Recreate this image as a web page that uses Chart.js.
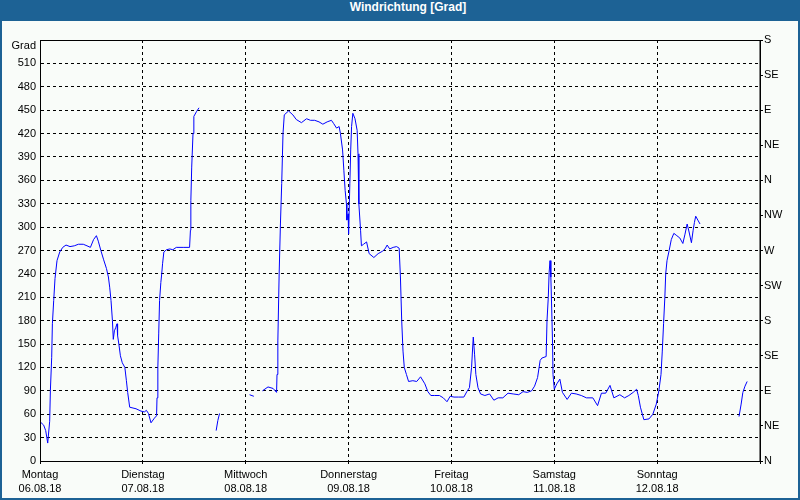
<!DOCTYPE html>
<html><head><meta charset="utf-8">
<script src="https://cdn.jsdelivr.net/npm/chart.js@4"></script>
<style>
html,body{margin:0;padding:0;background:#fff}
#frame{position:relative;width:800px;height:500px;background:#1d6295;overflow:hidden}
#title{position:absolute;left:8px;top:0;width:800px;height:21px;line-height:21px;text-align:center;color:#fff;font:bold 12px "Liberation Sans",Arial,sans-serif}
#inner{position:absolute;left:2px;top:21px;width:796px;height:477px;background:#f9fcf9}
#c{position:absolute;left:0;top:0}
</style></head><body>
<div id="frame"><div id="title">Windrichtung [Grad]</div><div id="inner"></div><canvas id="c" width="800" height="500"></canvas></div>
<script>
// hours since Monday 06.08.18 00:00
const times = [0.1,0.86,1.33,1.8,2.26,2.42,2.73,2.89,3.2,3.5,3.97,4.6,5.3,6.07,7.0,8.0,8.96,10.1,10.97,11.76,12.5,13.16,13.6,14.2,14.86,15.5,15.96,16.26,16.57,16.9,17.1,17.36,17.66,17.97,18.1,18.4,18.76,19.2,19.8,20.16,20.46,20.93,22.4,23.57,24.36,24.83,25.3,25.9,26.7,27.2,27.3,27.5,27.7,27.9,28.2,28.4,28.6,28.9,29.5,30.3,31.0,31.8,33.4,34.9,35.1,35.2,35.4,35.7,35.9,36.5,37.1,38,
41.1,41.5,41.9,45,
48.9,49.9,51,
51.9,53.2,54.4,55.2,55.3,55.5,55.8,56.1,56.4,56.7,57.0,58.0,59.0,59.8,61.0,62.2,63.1,64.1,65.1,66.0,67.0,68.0,68.5,69.2,69.8,70.1,70.6,70.9,71.2,71.5,71.6,71.9,72.0,72.3,72.5,72.7,73.0,73.5,74.0,74.2,74.4,74.8,75.0,75.5,76.2,76.8,77.9,78.9,79.9,80.5,81.0,81.6,82.4,83.2,83.8,84.1,84.4,84.7,85.0,85.5,86.0,87.0,87.9,88.8,89.8,90.5,91.2,92.1,93.2,94.1,94.97,95.7,96.6,97.7,98.9,99.6,100.2,100.7,101.0,101.1,101.4,101.7,102.2,102.8,103.8,104.9,105.9,106.9,108.0,109.2,110.4,111.7,112.7,113.7,114.7,115.4,116.1,116.7,117.1,118.1,118.3,118.6,118.8,119.0,119.2,119.4,119.6,119.7,120.0,120.6,121.3,121.9,123.0,124.0,125.1,126.3,127.5,129.0,130.1,131.0,132.0,133.0,133.9,135.3,136.4,137.4,138.4,139.2,139.6,140.1,140.9,142.1,143.0,143.8,144.4,144.9,145.2,145.5,145.8,146.0,146.3,146.8,147.3,147.9,148.6,149.3,150.0,150.5,151.0,151.4,152.0,152.4,152.7,153.0,153.5,154.0,158,
163.1,163.6,164.0,164.5,165.0];
const directions = [50,46,39,23,51,90,133,176,206,234,257,268,274,277,275,276,278,278,276,274,284,289,282,270,258,247,236,223,206,180,156,167,171,176,161,150,135,126,120,103,88,69,67,64,63,65,61,49,55,58,81,120,163,206,229,240,253,268,271,272,271,274,274,274,296,334,377,420,442,448,453,null,
39,52,61,null,
85,83,null,
90,95,93,88,111,154,240,304,356,420,444,449,444,438,434,439,437,437,435,432,435,437,433,427,429,420,399,373,347,330,309,317,291,356,399,429,446,439,424,394,330,296,276,278,281,266,261,266,269,272,277,272,274,275,273,236,180,141,120,111,102,103,102,108,99,89,84,84,84,81,76,83,82,82,82,89,94,120,150,159,137,111,94,86,84,86,78,81,81,87,86,85,89,88,90,96,107,129,132,134,180,210,242,257,236,195,150,111,92,99,105,88,79,87,86,84,81,81,71,87,87,97,81,85,81,84,88,92,84,69,53,54,60,73,90,111,141,176,210,240,257,270,284,292,289,286,279,291,304,295,280,296,306,314,309,304,null,
57,73,88,96,102];
const dayNames = ['Montag','Dienstag','Mittwoch','Donnerstag','Freitag','Samstag','Sonntag'];
const dayDates = ['06.08.18','07.08.18','08.08.18','09.08.18','10.08.18','11.08.18','12.08.18'];
const compass = ['N','NE','E','SE','S','SW','W','NW','N','NE','E','SE','S'];
const axisTitle = 'Grad';

const FONT = {family:'"Liberation Sans", Arial, sans-serif', size:11};
const points = times.map((t,i)=>({x:t,y:directions[i]}));

const framePlugin = {
  id:'frame',
  afterDraw(chart){
    const {ctx, chartArea:a} = chart;
    ctx.save();
    ctx.strokeStyle='#000'; ctx.lineWidth=1; ctx.setLineDash([]);
    ctx.strokeRect(Math.round(a.left)+0.5, Math.round(a.top)+0.5, Math.round(a.right-a.left)-0.5, Math.round(a.bottom-a.top));
    ctx.fillStyle='#000';
    ctx.font = '11px "Liberation Sans", Arial, sans-serif';
    ctx.textAlign='right'; ctx.textBaseline='middle';
    ctx.fillText(axisTitle, a.left-4, a.top+6);
    ctx.restore();
  }
};

new Chart(document.getElementById('c'), {
  type:'line',
  data:{datasets:[{data:points, borderColor:'#0000ff', borderWidth:1, pointRadius:0, tension:0, spanGaps:false, fill:false}]},
  options:{
    responsive:false, animation:false,
    layout:{padding:{top:40,left:0,right:0,bottom:0}},
    plugins:{legend:{display:false}, tooltip:{enabled:false}, title:{display:false}},
    scales:{
      x:{type:'linear', min:0, max:168,
        afterBuildTicks(s){ s.ticks=[0,24,48,72,96,120,144,168].map(v=>({value:v})); },
        afterFit(s){ s.height=39; },
        ticks:{autoSkip:false, maxRotation:0, minRotation:0, color:'#000', padding:3,
          font:{...FONT, lineHeight:1.36},
          callback(v){ const i=Math.round(v/24); return i<7 ? [dayNames[i], dayDates[i]] : ''; }},
        grid:{color:'#000', lineWidth:1, drawTicks:true, tickLength:3},
        border:{display:true, color:'#000', dash:[3,3]}
      },
      y:{position:'left', min:0, max:540,
        afterFit(s){ s.width=40; },
        ticks:{stepSize:30, color:'#000', padding:4, font:FONT,
          callback(v){ return v===540 ? '' : String(v); }},
        grid:{color:'#000', lineWidth:1, drawTicks:false},
        border:{display:true, color:'#000', dash:[3,3]}
      },
      y2:{position:'right', min:0, max:540,
        afterFit(s){ s.width=40; },
        ticks:{stepSize:45, color:'#000', padding:1, font:FONT,
          callback(v){ return compass[Math.round(v/45)]; }},
        grid:{drawOnChartArea:false, drawTicks:true, tickLength:3, color:'#000'},
        border:{display:true, color:'#000'}
      }
    }
  },
  plugins:[framePlugin]
});
</script>
</body></html>
